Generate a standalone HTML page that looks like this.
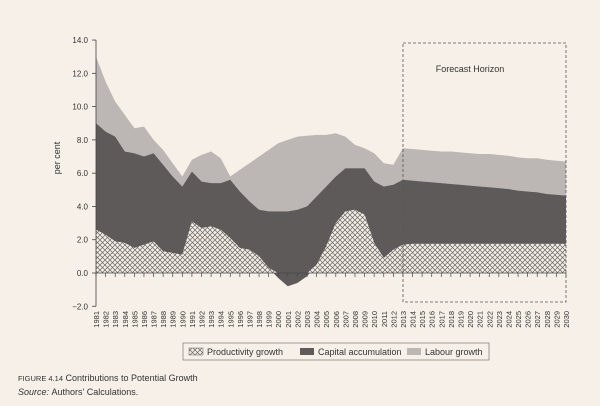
<!DOCTYPE html>
<html><head><meta charset="utf-8">
<style>
body{margin:0;background:#f6f0e8;}
svg{display:block;font-family:"Liberation Sans",sans-serif;}
</style></head>
<body>
<svg id="chart" width="600" height="406" viewBox="0 0 600 406">
<defs>
<pattern id="hatch" patternUnits="userSpaceOnUse" width="5" height="5">
<rect width="5" height="5" fill="#f3ede6"/>
<path d="M0,0 L5,5 M5,0 L0,5" stroke="#6a6664" stroke-width="0.7"/>
</pattern>
</defs>
<rect width="600" height="406" fill="#f6f0e8"/>
<g id="areas"></g>
<g id="axes"></g>
<rect x="403" y="43" width="163" height="259" fill="none" stroke="#555" stroke-width="0.8" stroke-dasharray="3,2"/>
<text x="470" y="72" font-size="9" fill="#333" text-anchor="middle">Forecast Horizon</text>
<text x="60" y="158" font-size="9" fill="#333" text-anchor="middle" transform="rotate(-90 60 158)">per cent</text>
<g>
<rect x="183" y="343" width="306" height="17" fill="none" stroke="#777" stroke-width="0.7"/>
<rect x="189" y="348" width="14" height="7" fill="url(#hatch)" stroke="#666" stroke-width="0.5"/>
<text x="207" y="355" font-size="9" fill="#333">Productivity growth</text>
<rect x="300" y="348" width="14" height="7" fill="#5e5a5a"/>
<text x="318" y="355" font-size="9" fill="#333">Capital accumulation</text>
<rect x="407" y="348" width="14" height="7" fill="#bcb7b4"/>
<text x="425" y="355" font-size="9" fill="#333">Labour growth</text>
</g>
<text x="18" y="381" font-size="9" fill="#333"><tspan font-size="7.5">FIGURE 4.14</tspan>   Contributions to Potential Growth</text>
<text x="18" y="395" font-size="9" fill="#333" font-style="italic">Source: <tspan font-style="normal">Authors' Calculations.</tspan></text>
</svg>
<script>
const years = [];
for (let y = 1981; y <= 2030; y++) years.push(y);
const productivity = [2.6,2.3,1.9,1.8,1.5,1.7,1.9,1.3,1.2,1.1,3.1,2.7,2.8,2.6,2.1,1.5,1.4,1.0,0.3,-0.3,-0.8,-0.6,-0.2,0.5,1.6,3.0,3.7,3.8,3.5,1.8,0.9,1.4,1.7,
 1.75,1.75,1.75,1.75,1.75,1.75,1.75,1.75,1.75,1.75,1.75,1.75,1.75,1.75,1.75,1.75,1.75];
const capital = [6.4,6.2,6.3,5.5,5.7,5.3,5.3,5.2,4.6,4.1,3.0,2.8,2.6,2.8,3.5,3.4,2.9,2.8,3.4,4.0,4.5,4.4,4.2,4.1,3.6,2.8,2.6,2.5,2.8,3.7,4.3,3.9,3.9,
 3.8,3.75,3.7,3.65,3.6,3.55,3.5,3.45,3.4,3.35,3.3,3.2,3.15,3.1,3.0,2.95,2.9];
const labour = [4.0,3.0,2.1,2.2,1.5,1.8,0.8,0.9,0.8,0.6,0.7,1.6,1.9,1.5,0.2,1.3,2.3,3.2,3.7,4.1,4.3,4.4,4.25,3.7,3.1,2.6,1.9,1.4,1.2,1.7,1.4,1.2,1.9,
 1.9,1.9,1.9,1.9,1.95,1.95,1.95,1.95,2.0,2.0,2.0,2.0,2.0,2.05,2.05,2.05,2.05];
const yTicks = [14,12,10,8,6,4,2,0,-2];

const NS = "http://www.w3.org/2000/svg";
const X0 = 96, X1 = 566, Y0 = 273, PXU = 16.64;
const xs = i => X0 + i * (X1 - X0) / (years.length - 1);
const ys = v => Y0 - v * PXU;
function mk(tag, attrs, parent){const e=document.createElementNS(NS,tag);for(const k in attrs)e.setAttribute(k,attrs[k]);parent.appendChild(e);return e;}
function band(lo, hi){
  let d = "";
  hi.forEach((v,i)=>{d += (i?"L":"M") + xs(i).toFixed(1) + "," + ys(v).toFixed(1);});
  for (let i = lo.length-1; i >= 0; i--) d += "L" + xs(i).toFixed(1) + "," + ys(lo[i]).toFixed(1);
  return d + "Z";
}
const areas = document.getElementById("areas");
const zero = years.map(()=>0);
const prodPos = productivity.map(v=>Math.max(0,v));
const capTop = productivity.map((p,i)=>p+capital[i]);
const totTop = capTop.map((c,i)=>c+labour[i]);

const la = mk("path",{d:band(capTop,totTop),fill:"#bcb7b4"},areas);


const ca = mk("path",{d:band(productivity,capTop),fill:"#5e5a5a"},areas);


const pa = mk("path",{d:band(zero,prodPos),fill:"url(#hatch)"},areas);



const axes = document.getElementById("axes");
const ya = mk("line",{x1:X0,x2:X0,y1:ys(14),y2:ys(-2),stroke:"#444","stroke-width":0.8},axes);


const xa = mk("line",{x1:X0,x2:X1,y1:Y0,y2:Y0,stroke:"#444","stroke-width":0.8},axes);


yTicks.forEach(v=>{
  const t = mk("line",{x1:X0-4,x2:X0,y1:ys(v),y2:ys(v),stroke:"#444","stroke-width":0.8},axes);
  
  
  const l = mk("text",{x:X0-8,y:ys(v)+3,"font-size":8,fill:"#333","text-anchor":"end"},axes);
  l.textContent = v.toFixed(1).replace("-","\u2212");
  
  
});
years.forEach((yr,i)=>{
  const t = mk("line",{x1:xs(i),x2:xs(i),y1:Y0,y2:Y0+4,stroke:"#444","stroke-width":0.7},axes);
  
  
  const x = xs(i)+3, y = 311;
  const l = mk("text",{x:x,y:y,"font-size":7.5,fill:"#333","text-anchor":"end",transform:"rotate(-90 "+x+" "+y+")"},axes);
  l.textContent = yr;
  
  
});
</script>
</body></html>
